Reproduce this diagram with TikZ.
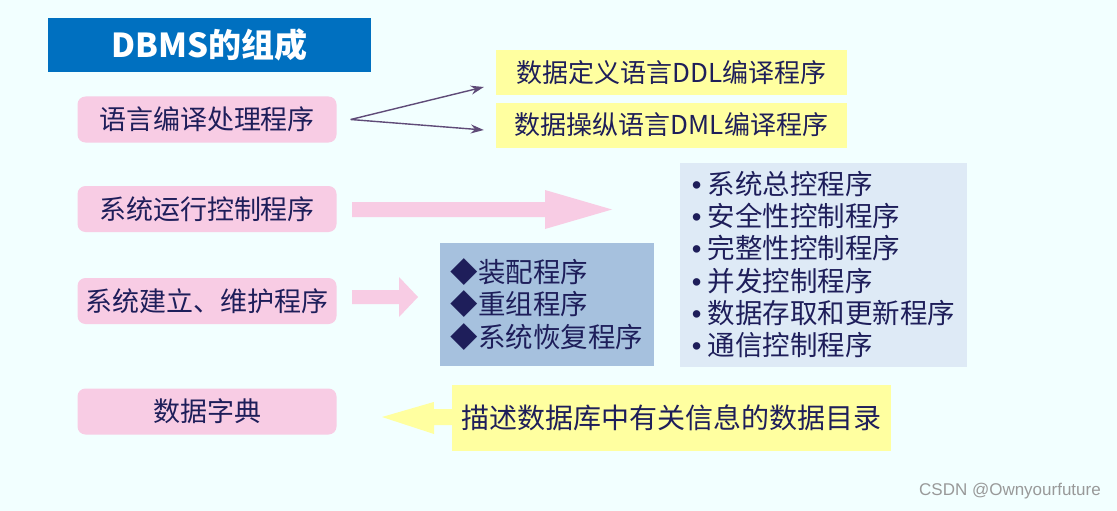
\documentclass[tikz,border=0pt]{standalone}
\usepackage{fontspec}
\setmainfont{Noto Sans CJK SC}
\newfontfamily\wmfont{Liberation Sans}
\usetikzlibrary{positioning,arrows.meta}
\definecolor{pagebg}{RGB}{242,255,255}
\definecolor{titleblue}{RGB}{0,112,192}
\definecolor{pinkbox}{RGB}{248,204,228}
\definecolor{hilite}{RGB}{255,255,160}
\definecolor{steelbox}{RGB}{166,193,222}
\definecolor{paleblue}{RGB}{222,234,246}
\definecolor{navytext}{RGB}{30,30,90}
\definecolor{linkline}{RGB}{95,75,120}
\newcommand\dotitem{{\wmfont •}\hspace{6pt}}
\begin{document}
\begin{tikzpicture}
[x=1pt,y=-1pt,
every node/.style={text=navytext,inner sep=0pt,font=\fontsize{27}{32}\selectfont},
part/.style={fill=pinkbox,rounded corners=8pt,minimum width=259pt,minimum height=46pt},
marker/.style={fill=hilite,minimum width=351pt,minimum height=45pt,font=\fontsize{26}{30}\selectfont},
listbox/.style={align=left,font=\fontsize{27.5}{32.2}\selectfont},
link/.style={draw=linkline,line width=1.4pt,-{Stealth[length=13pt,width=9pt]}},
]
\fill[pagebg] (0,0) rectangle (1117,511);
\useasboundingbox (0,0) rectangle (1117,511);
\node[fill=titleblue,text=white,minimum width=323pt,minimum height=54pt,
  font=\bfseries\fontsize{33}{36}\selectfont] (title) at (209.5,45) {DBMS的组成};
\node[part] (lang) at (207,119.5) {语言编译处理程序};
\node[part] (run) at (207,209) {系统运行控制程序};
\node[part] (build) at (207,301) {系统建立、维护程序};
\node[part] (dict) at (207,411.5) {数据字典};
\node[marker] (ddl) at (671.5,72.5) {数据定义语言DDL编译程序};
\node[marker] (dml) at (671.5,125) {数据操纵语言DML编译程序};
\draw[link] ([xshift=14pt]lang.east) -- ([xshift=-12pt,yshift=-14.5pt]ddl.west);
\draw[link] ([xshift=14pt]lang.east) -- ([xshift=-12pt,yshift=-5pt]dml.west);
\node[fill=paleblue,minimum width=287pt,minimum height=204pt,listbox] (control) at (823.5,264.5)
  {\dotitem 系统总控程序\\\dotitem 安全性控制程序\\\dotitem 完整性控制程序\\\dotitem 并发控制程序\\\dotitem 数据存取和更新程序\\\dotitem 通信控制程序};
\node[fill=steelbox,minimum width=214pt,minimum height=123pt,listbox] (rebuild) at (547,304.5)
  {◆装配程序\\◆重组程序\\◆系统恢复程序};
\node[fill=hilite,minimum width=439pt,minimum height=66pt,font=\fontsize{28}{32}\selectfont] (catalog) at (671.5,418) {描述数据库中有关信息的数据目录};
\fill[pinkbox] (352,202) -- (545,202) -- (545,190) -- (612,209.5) -- (545,229) -- (545,217) -- (352,217) -- cycle;
\fill[pinkbox] (352,290) -- (399,290) -- (399,277) -- (418,297) -- (399,317) -- (399,304) -- (352,304) -- cycle;
\fill[hilite] (catalog.west) -- ++(0,-9) -- ++(-18,0) -- ++(0,-7) -- (382,417) -- (434,434) -- ++(0,-9) -- ++(18,0) -- cycle;
\node[anchor=east,text=black!40,font=\wmfont\fontsize{17}{19}\selectfont] (mark) at (1101,491) {CSDN @Ownyourfuture};
\end{tikzpicture}
\end{document}
